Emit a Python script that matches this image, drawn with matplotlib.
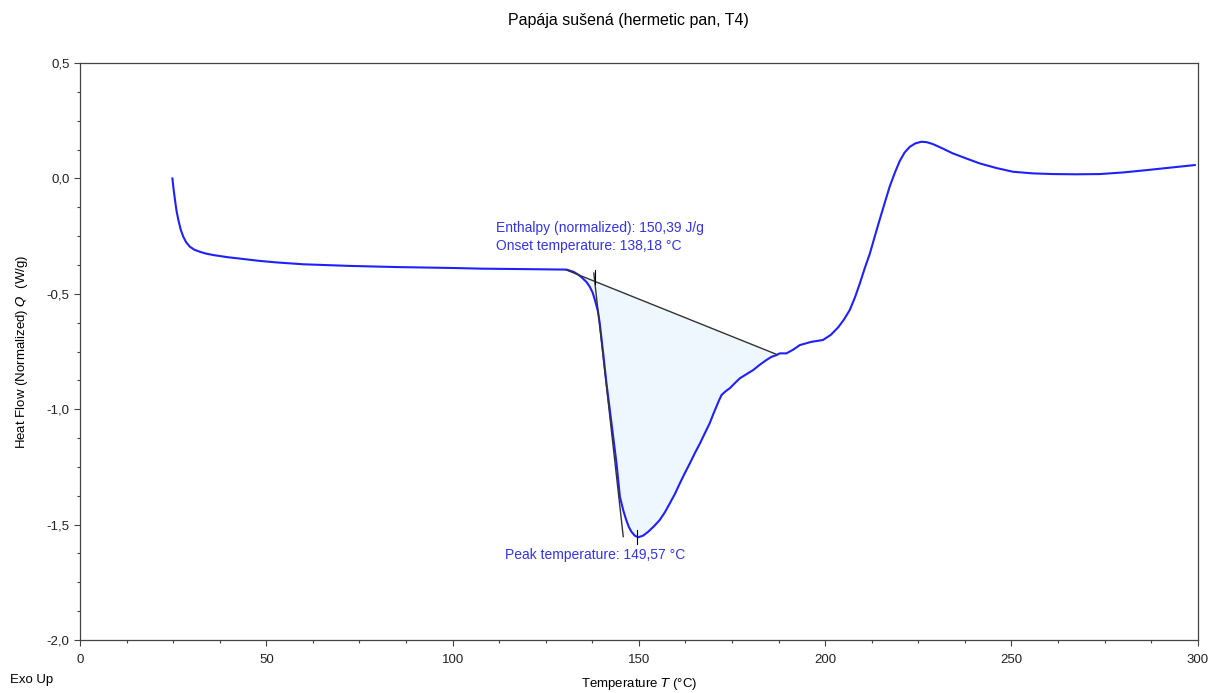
import numpy as np
import matplotlib.pyplot as plt
from matplotlib.ticker import MultipleLocator, FuncFormatter

plt.rcParams['font.family'] = ['Liberation Sans', 'DejaVu Sans']

# DSC curve
temp = [24.8, 25.1, 25.5, 25.9, 26.4, 27.0, 27.7, 28.5, 29.5, 30.7, 32.2, 33.9, 35.8,
        39.5, 43.8, 48.0, 52.8, 60.0, 72.4, 85.0, 100.0, 108.0, 120.0, 130.6, 132.5,
        134.0, 135.0, 136.0, 136.8, 137.6, 138.2, 139.0, 139.5, 140.4, 141.3, 142.2,
        143.1, 144.0, 144.9, 145.8, 146.6, 147.3, 148.0, 148.9, 149.8, 151.1, 152.5,
        154.0, 155.6, 157.0, 158.3, 159.7, 161.0, 162.3, 163.7, 165.0, 166.4, 167.7,
        169.0, 170.0, 170.8, 171.5, 172.2, 173.3, 174.4, 175.7, 177.1, 178.9, 180.7,
        182.4, 184.2, 185.6, 187.0, 187.8, 189.6, 191.4, 193.2, 196.3, 199.4, 201.5,
        203.5, 205.1, 206.6, 208.0, 209.3, 210.6, 212.0, 213.3, 214.6, 216.0, 217.3,
        218.7, 220.0, 221.3, 222.7, 224.2, 225.8, 227.3, 228.9, 231.5, 234.2, 237.8,
        241.5, 246.0, 250.4, 255.7, 261.1, 267.4, 273.7, 280.0, 286.2, 292.7, 299.2]
heat = [0.0, -0.045, -0.094, -0.14, -0.18, -0.22, -0.252, -0.277, -0.296, -0.309,
        -0.318, -0.326, -0.332, -0.341, -0.349, -0.357, -0.364, -0.372, -0.379, -0.384,
        -0.388, -0.391, -0.393, -0.395, -0.405, -0.42, -0.434, -0.45, -0.469, -0.495,
        -0.527, -0.575, -0.628, -0.755, -0.888, -1.003, -1.119, -1.235, -1.379, -1.438,
        -1.48, -1.51, -1.531, -1.548, -1.555, -1.548, -1.531, -1.508, -1.48, -1.446,
        -1.408, -1.366, -1.321, -1.278, -1.234, -1.191, -1.148, -1.104, -1.061, -1.02,
        -0.989, -0.962, -0.938, -0.922, -0.909, -0.888, -0.866, -0.848, -0.830, -0.808,
        -0.787, -0.773, -0.765, -0.758, -0.758, -0.742, -0.722, -0.708, -0.700, -0.678,
        -0.645, -0.610, -0.570, -0.515, -0.455, -0.390, -0.325, -0.252, -0.180, -0.105,
        -0.036, 0.025, 0.075, 0.112, 0.137, 0.152, 0.159, 0.157, 0.149, 0.130, 0.109,
        0.087, 0.065, 0.045, 0.029, 0.022, 0.019, 0.018, 0.019, 0.026, 0.036, 0.047,
        0.058]

# integration baseline and onset tangent
base_t = [130.6, 186.9]
base_q = [-0.397, -0.762]
tang_t = [137.9, 145.8]
tang_q = [-0.41, -1.552]
onset_t, onset_q = 138.18, -0.428
peak_t, peak_q = 149.57, -1.555

enthalpy_txt = 'Enthalpy (normalized): 150,39 J/g'
onset_txt = 'Onset temperature: 138,18 °C'
peak_txt = 'Peak temperature: 149,57 °C'

fig = plt.figure(figsize=(12.16, 6.93), dpi=100)
ax = fig.add_axes([0.0658, 0.0765, 0.9192, 0.8325])

t = np.array(temp)
q = np.array(heat)
mask = (t >= base_t[0]) & (t <= base_t[1])
ft = np.concatenate([[base_t[0]], t[mask], [base_t[1]]])
fq = np.concatenate([[base_q[0]], q[mask], [base_q[1]]])
ax.fill_between(ft, fq, np.interp(ft, base_t, base_q), color='#eef6fe', linewidth=0)

ax.plot(temp, heat, color='#2020ff', linewidth=1.5)
ax.plot(base_t, base_q, color='#333333', linewidth=1)
ax.plot(tang_t, tang_q, color='#333333', linewidth=1)
ax.plot([onset_t, onset_t], [onset_q + 0.03, onset_q - 0.03], color='black', linewidth=0.8)
ax.plot([peak_t, peak_t], [peak_q + 0.03, peak_q - 0.03], color='black', linewidth=0.8)

ax.text(111.6, -0.215, enthalpy_txt, color='#3333ee', fontsize=10, va='center')
ax.text(111.6, -0.293, onset_txt, color='#3333ee', fontsize=10, va='center')
ax.text(114.0, -1.632, peak_txt, color='#3333ee', fontsize=10, va='center')

ax.set_xlim(0, 300)
ax.set_ylim(-2.0, 0.5)
ax.xaxis.set_major_locator(MultipleLocator(50))
ax.xaxis.set_minor_locator(MultipleLocator(12.5))
ax.yaxis.set_major_locator(MultipleLocator(0.5))
ax.yaxis.set_minor_locator(MultipleLocator(0.125))
ax.yaxis.set_major_formatter(FuncFormatter(lambda v, p: f'{v:.1f}'.replace('.', ',')))
ax.tick_params(which='major', direction='out', length=4, labelsize=9.5, width=0.8,
               color='#444444', labelcolor='#222222')
ax.tick_params(which='minor', direction='out', length=2.5, width=0.8, color='#444444')
ax.tick_params(axis='x', pad=6)
for s in ax.spines.values():
    s.set_linewidth(0.9)
    s.set_color('#444444')

fig.text(628 / 1216, 1 - 20 / 693, 'Papája sušená (hermetic pan, T4)', fontsize=11.5,
         ha='center', va='center')
ax.set_xlabel('Temperature $\\it{T}$ (°C)', fontsize=9.5, labelpad=7)
ax.set_ylabel('Heat Flow (Normalized) $\\it{Q}$  (W/g)', fontsize=9.5, labelpad=12)
fig.text(0.008, 0.015, 'Exo Up', fontsize=9.5)

plt.savefig('out.png', dpi=100)
